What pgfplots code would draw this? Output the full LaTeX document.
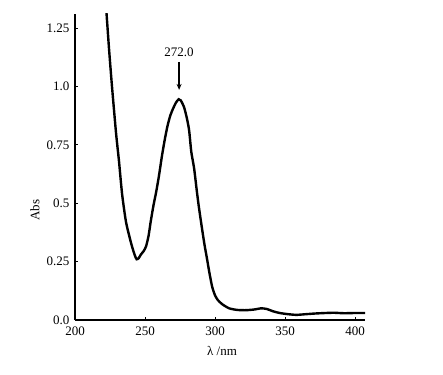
\documentclass[border=0pt]{standalone}
\usepackage{fontspec}
\setmainfont{Liberation Serif}
\usepackage{pgfplots}
\pgfplotsset{compat=1.18}
\usetikzlibrary{arrows.meta}
\begin{document}
\fontsize{13}{15}\selectfont
\begin{tikzpicture}
\useasboundingbox (-75pt,-54pt) rectangle (368pt,320pt);
\begin{axis}[
  at={(0pt,0pt)}, anchor=south west,
  scale only axis, width=290pt, height=306pt,
  xmin=200, xmax=407, ymin=0, ymax=1.31,
  axis lines*=left,
  axis line style={line width=1.6pt},
  xtick={200,250,300,350,400},
  ytick={0,0.25,0.5,0.75,1.0,1.25},
  yticklabels={0.0,0.25,0.5,0.75,1.0,1.25},
  tick align=inside, major tick length=3pt,
  tick style={black, line width=1pt},
  /pgf/number format/assume math mode=true,
  ticklabel style={font=\fontsize{13}{15}\selectfont},
  xticklabel style={yshift=-2pt},
  yticklabel style={xshift=-1pt},
  clip=true,
]
\addplot[black, line width=2.4pt, smooth, tension=0.4] coordinates {
(222.3,1.33) (224.3,1.16) (226.4,1.0) (229.3,0.80) (231.4,0.68) (233.6,0.54)
(236.4,0.42) (240,0.33) (242.5,0.28) (244,0.26) (245.5,0.265) (247,0.28)
(249,0.295) (250.7,0.315) (252.5,0.36) (254,0.42) (256,0.49) (258,0.55)
(260,0.62) (262,0.70) (264,0.77) (266,0.83) (268,0.875) (270,0.905)
(272,0.93) (274,0.945) (275.5,0.94) (277.9,0.91) (280,0.86) (281.5,0.81)
(283,0.72) (285,0.65) (287,0.55) (288.5,0.48) (290.7,0.39) (292.5,0.32)
(294,0.27) (296,0.20) (298,0.14) (300,0.105) (302,0.085) (305,0.068)
(310,0.05) (316,0.043) (322,0.042) (328,0.045) (333,0.05) (337,0.047)
(341,0.038) (346,0.03) (352,0.025) (358,0.022) (365,0.025) (372,0.028)
(379,0.03) (385,0.031) (392,0.029) (400,0.03) (407,0.03)
};
\draw[-{Stealth[length=6pt,width=5pt]}, line width=1.2pt] (axis cs:274.3,1.105) -- (axis cs:274.3,0.985);
\node[font=\fontsize{13}{15}\selectfont] at (axis cs:274.3,1.145) {272.0};
\end{axis}
\node[rotate=90, font=\fontsize{13}{15}\selectfont] at (-40pt,110pt) {Abs};
\node[font=\fontsize{13}{15}\selectfont] at (147pt,-31pt) {λ /nm};
\end{tikzpicture}
\end{document}
